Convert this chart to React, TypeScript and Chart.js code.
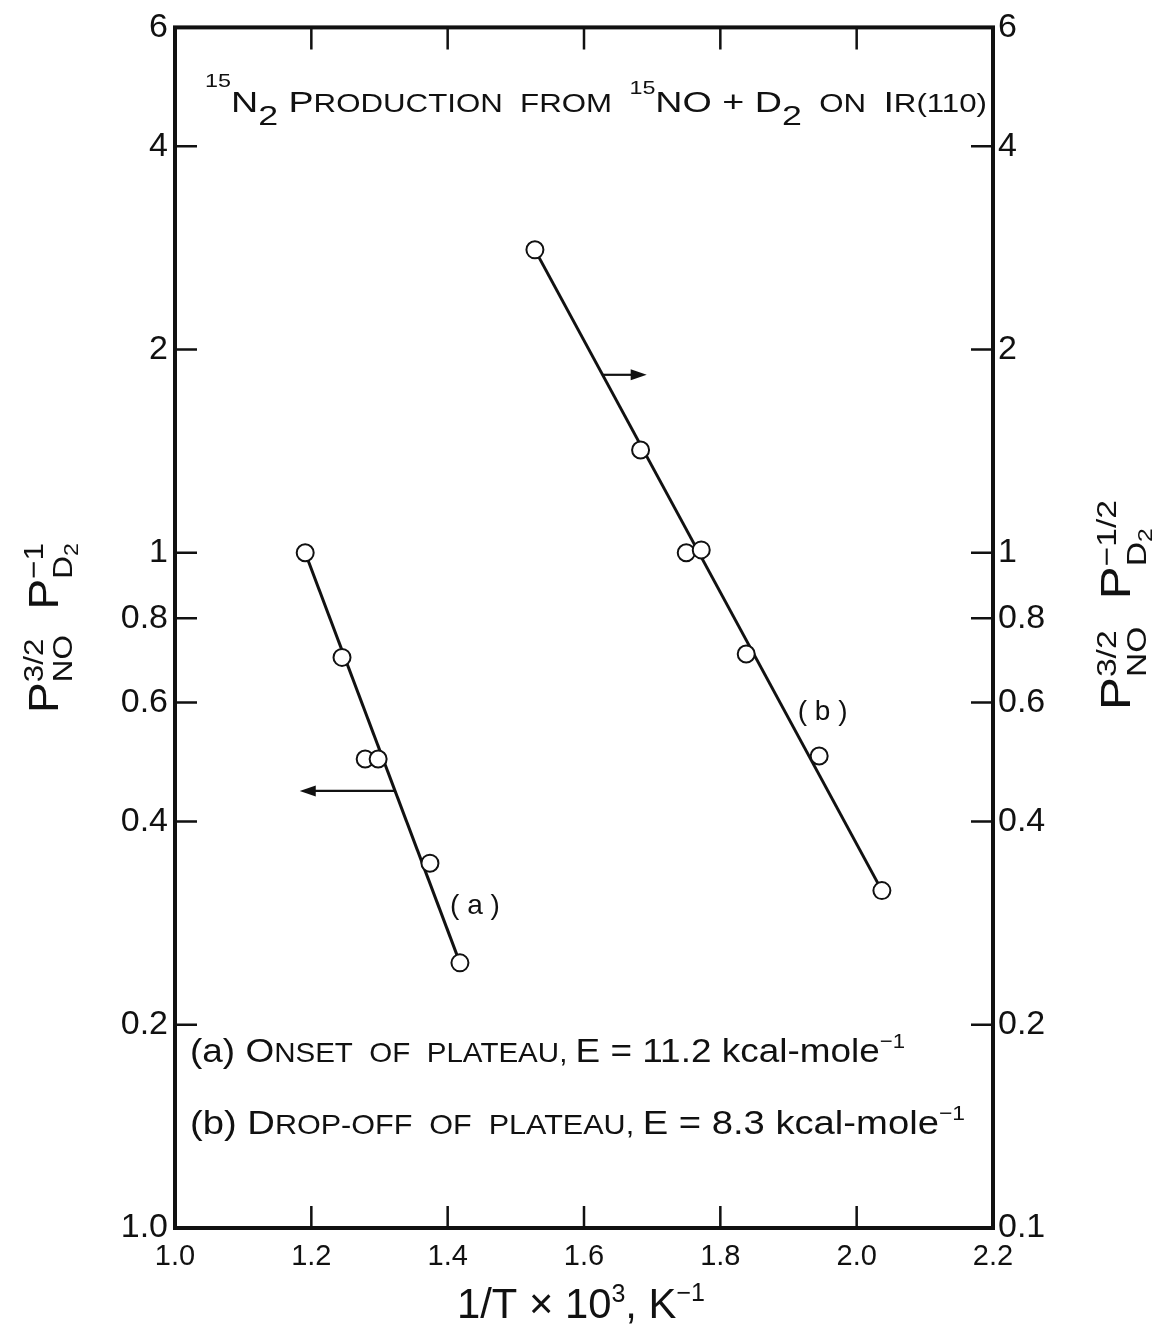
import React, { useEffect, useRef } from "react";
import { Chart, registerables } from "chart.js";

Chart.register(...registerables);

const FONT = '"Liberation Sans", Arial, sans-serif';
const INK = "#111111";

// ---- axis ticks ----
const xTickValues = [1.0, 1.2, 1.4, 1.6, 1.8, 2.0, 2.2];
const xTickLabels = ["1.0", "1.2", "1.4", "1.6", "1.8", "2.0", "2.2"];
const yTickValues = [0.1, 0.2, 0.4, 0.6, 0.8, 1, 2, 4, 6];
const leftTickLabels = ["1.0", "0.2", "0.4", "0.6", "0.8", "1", "2", "4", "6"];
const rightTickLabels = ["0.1", "0.2", "0.4", "0.6", "0.8", "1", "2", "4", "6"];

// ---- series (a): left axis ----
const seriesAX = [1.191, 1.245, 1.279, 1.298, 1.374, 1.418];
const seriesAY = [1.0, 0.7, 0.495, 0.495, 0.347, 0.247];
const fitAX = [1.191, 1.418];
const fitAY = [1.0, 0.247];

// ---- series (b): right axis ----
const seriesBX = [1.528, 1.683, 1.75, 1.772, 1.838, 1.945, 2.037];
const seriesBY = [2.81, 1.42, 1.0, 1.01, 0.708, 0.5, 0.316];
const fitBX = [1.528, 2.037];
const fitBY = [2.81, 0.316];

// ---- arrows pointing to the axis each series belongs to ----
const arrowAxis = ["y", "y2"];
const arrowFromX = [1.322, 1.628];
const arrowToX = [1.183, 1.692];
const arrowY = [0.444, 1.835];

// ---- curve labels ----
const curveLabelText = ["( a )", "( b )"];
const curveLabelX = [1.44, 1.95];
const curveLabelY = [0.3, 0.58];
const curveLabelAxis = ["y", "y2"];

type Seg = { t: string; f?: number; dy?: number; mark?: boolean; back?: boolean };

const titleSegs: Seg[] = [
  { t: "15", f: 0.62, dy: -25 },
  { t: "N" },
  { t: "2", f: 0.95, dy: 13 },
  { t: " " },
  { t: "P" },
  { t: "RODUCTION", f: 0.83 },
  { t: "  FROM  ", f: 0.83 },
  { t: "15", f: 0.62, dy: -18 },
  { t: "NO + D" },
  { t: "2", f: 0.95, dy: 13 },
  { t: "  ON  ", f: 0.83 },
  { t: "I" },
  { t: "R(110)", f: 0.83 },
];

const noteASegs: Seg[] = [
  { t: "(a) " },
  { t: "O" },
  { t: "NSET  OF  PLATEAU, ", f: 0.8 },
  { t: "E = 11.2 kcal-mole" },
  { t: "−1", f: 0.6, dy: -14 },
];

const noteBSegs: Seg[] = [
  { t: "(b) " },
  { t: "D" },
  { t: "ROP-OFF  OF  PLATEAU, ", f: 0.8 },
  { t: "E = 8.3 kcal-mole" },
  { t: "−1", f: 0.6, dy: -14 },
];

const xTitleSegs: Seg[] = [
  { t: "1/T × 10" },
  { t: "3", f: 0.6, dy: -16 },
  { t: ", K" },
  { t: "−1", f: 0.6, dy: -17 },
];

const leftTitleSegs: Seg[] = [
  { t: "P" },
  { t: "NO", f: 0.68, dy: 14, mark: true },
  { t: "3/2", f: 0.68, dy: -15, back: true },
  { t: "  " },
  { t: "P" },
  { t: "D", f: 0.68, dy: 14, mark: true },
  { t: "2", f: 0.5, dy: 20 },
  { t: "−1", f: 0.68, dy: -15, back: true },
];

const rightTitleSegs: Seg[] = [
  { t: "P" },
  { t: "NO", f: 0.68, dy: 16, mark: true },
  { t: "3/2", f: 0.68, dy: -14, back: true },
  { t: "  " },
  { t: "P" },
  { t: "D", f: 0.68, dy: 16, mark: true },
  { t: "2", f: 0.5, dy: 22 },
  { t: "−1/2", f: 0.68, dy: -14, back: true },
];

function drawRich(
  ctx: CanvasRenderingContext2D,
  segs: Seg[],
  size: number,
  x: number,
  y: number,
  opts: { width?: number; align?: "left" | "center"; rotate?: number }
) {
  const placed: { t: string; px: number; size: number; dy: number }[] = [];
  let cx = 0;
  let anchor = 0;
  for (const s of segs) {
    const sz = size * (s.f ?? 1);
    ctx.font = `${sz}px ${FONT}`;
    const w = ctx.measureText(s.t).width;
    if (s.back) {
      placed.push({ t: s.t, px: anchor, size: sz, dy: s.dy ?? 0 });
      cx = Math.max(cx, anchor + w);
    } else {
      if (s.mark) anchor = cx;
      placed.push({ t: s.t, px: cx, size: sz, dy: s.dy ?? 0 });
      cx += w;
    }
  }
  const total = cx;
  const sx = opts.width ? opts.width / total : 1;
  ctx.save();
  ctx.translate(x, y);
  if (opts.rotate) ctx.rotate(opts.rotate);
  ctx.scale(sx, 1);
  const x0 = opts.align === "center" ? -total / 2 : 0;
  ctx.fillStyle = INK;
  ctx.textAlign = "left";
  ctx.textBaseline = "alphabetic";
  for (const p of placed) {
    ctx.font = `${p.size}px ${FONT}`;
    ctx.fillText(p.t, x0 + p.px, p.dy);
  }
  ctx.restore();
}

const decorPlugin = {
  id: "decor",
  afterDatasetsDraw(chart: any) {
    const { ctx, scales } = chart;
    const xs = scales.x;
    ctx.save();
    ctx.strokeStyle = INK;
    ctx.fillStyle = INK;
    ctx.lineWidth = 2.2;
    for (let i = 0; i < arrowAxis.length; i++) {
      const ys = scales[arrowAxis[i]];
      const x1 = xs.getPixelForValue(arrowFromX[i]);
      const x2 = xs.getPixelForValue(arrowToX[i]);
      const py = ys.getPixelForValue(arrowY[i]);
      const dir = Math.sign(x2 - x1);
      const head = 16;
      ctx.beginPath();
      ctx.moveTo(x1, py);
      ctx.lineTo(x2 - dir * head * 0.8, py);
      ctx.stroke();
      ctx.beginPath();
      ctx.moveTo(x2, py);
      ctx.lineTo(x2 - dir * head, py - 5.5);
      ctx.lineTo(x2 - dir * head, py + 5.5);
      ctx.closePath();
      ctx.fill();
    }
    ctx.font = `28px ${FONT}`;
    ctx.textAlign = "center";
    ctx.textBaseline = "middle";
    for (let i = 0; i < curveLabelText.length; i++) {
      const ys = scales[curveLabelAxis[i]];
      ctx.fillText(
        curveLabelText[i],
        xs.getPixelForValue(curveLabelX[i]),
        ys.getPixelForValue(curveLabelY[i])
      );
    }
    ctx.restore();
  },
  afterDraw(chart: any) {
    const { ctx, chartArea: a, scales } = chart;
    ctx.save();
    ctx.strokeStyle = INK;
    ctx.lineWidth = 4;
    ctx.strokeRect(a.left, a.top, a.right - a.left, a.bottom - a.top);
    const L = 22;
    ctx.lineWidth = 2.5;
    ctx.beginPath();
    for (const t of scales.x.ticks) {
      const px = scales.x.getPixelForValue(t.value);
      ctx.moveTo(px, a.bottom);
      ctx.lineTo(px, a.bottom - L);
      ctx.moveTo(px, a.top);
      ctx.lineTo(px, a.top + L);
    }
    for (const t of scales.y.ticks) {
      const py = scales.y.getPixelForValue(t.value);
      ctx.moveTo(a.left, py);
      ctx.lineTo(a.left + L, py);
    }
    for (const t of scales.y2.ticks) {
      const py = scales.y2.getPixelForValue(t.value);
      ctx.moveTo(a.right, py);
      ctx.lineTo(a.right - L, py);
    }
    ctx.stroke();
    ctx.restore();

    drawRich(ctx, titleSegs, 30, a.left + 30, a.top + 85, { width: 782 });
    drawRich(ctx, noteASegs, 34, a.left + 15, a.top + 1035, { width: 715 });
    drawRich(ctx, noteBSegs, 34, a.left + 15, a.top + 1107, { width: 775 });
    drawRich(ctx, xTitleSegs, 42, a.left + 282, a.bottom + 90, { width: 248 });
    drawRich(ctx, leftTitleSegs, 42, 58, 628, {
      width: 170,
      align: "center",
      rotate: -Math.PI / 2,
    });
    drawRich(ctx, rightTitleSegs, 42, 1130, 605, {
      width: 210,
      align: "center",
      rotate: -Math.PI / 2,
    });
  },
};

function pts(xs: number[], ys: number[]) {
  return xs.map((x, i) => ({ x, y: ys[i] }));
}

function labelFor(list: string[], v: number) {
  const i = yTickValues.findIndex((t) => Math.abs(t - v) < 1e-9);
  return i >= 0 ? list[i] : "";
}

export default function App() {
  const ref = useRef<HTMLCanvasElement | null>(null);

  useEffect(() => {
    if (!ref.current) return;
    const pointStyle = {
      pointRadius: 8.5,
      pointBorderWidth: 2,
      pointBackgroundColor: "#ffffff",
      pointBorderColor: INK,
      showLine: false,
    };
    const lineStyle = {
      borderColor: INK,
      borderWidth: 3,
      pointRadius: 0,
      showLine: true,
    };
    const chart = new Chart(ref.current, {
      type: "scatter",
      data: {
        datasets: [
          { label: "fit a", data: pts(fitAX, fitAY), yAxisID: "y", order: 2, ...lineStyle },
          { label: "fit b", data: pts(fitBX, fitBY), yAxisID: "y2", order: 2, ...lineStyle },
          { label: "(a)", data: pts(seriesAX, seriesAY), yAxisID: "y", order: 1, ...pointStyle },
          { label: "(b)", data: pts(seriesBX, seriesBY), yAxisID: "y2", order: 1, ...pointStyle },
        ],
      },
      options: {
        responsive: false,
        animation: false,
        devicePixelRatio: 1,
        layout: { padding: { top: 25, left: 0, right: 0, bottom: 0 } },
        plugins: { legend: { display: false }, tooltip: { enabled: false } },
        scales: {
          x: {
            type: "linear",
            min: 1.0,
            max: 2.2,
            grid: { display: false, drawTicks: false },
            border: { display: false },
            afterBuildTicks: (s: any) => {
              s.ticks = xTickValues.map((v) => ({ value: v }));
            },
            afterFit: (s: any) => {
              s.height = 101;
            },
            ticks: {
              autoSkip: false,
              maxRotation: 0,
              padding: 12,
              color: INK,
              font: { family: FONT, size: 29 },
              callback: (_v: any, i: number) => xTickLabels[i],
            },
          },
          y: {
            type: "logarithmic",
            position: "left",
            min: 0.1,
            max: 6,
            grid: { display: false, drawTicks: false },
            border: { display: false },
            afterBuildTicks: (s: any) => {
              s.ticks = yTickValues.map((v) => ({ value: v }));
            },
            afterFit: (s: any) => {
              s.width = 175;
            },
            ticks: {
              autoSkip: false,
              padding: 7,
              color: INK,
              font: { family: FONT, size: 34 },
              callback: (v: any) => labelFor(leftTickLabels, Number(v)),
            },
          },
          y2: {
            type: "logarithmic",
            position: "right",
            min: 0.1,
            max: 6,
            grid: { display: false, drawTicks: false },
            border: { display: false },
            afterBuildTicks: (s: any) => {
              s.ticks = yTickValues.map((v) => ({ value: v }));
            },
            afterFit: (s: any) => {
              s.width = 166;
            },
            ticks: {
              autoSkip: false,
              padding: 5,
              color: INK,
              font: { family: FONT, size: 34 },
              callback: (v: any) => labelFor(rightTickLabels, Number(v)),
            },
          },
        },
      },
      plugins: [decorPlugin],
    } as any);
    return () => chart.destroy();
  }, []);

  return (
    <div
      style={{
        position: "absolute",
        left: 0,
        top: 0,
        width: 1159,
        height: 1329,
        background: "#ffffff",
      }}
    >
      <canvas ref={ref} width={1159} height={1329} style={{ display: "block" }} />
    </div>
  );
}
